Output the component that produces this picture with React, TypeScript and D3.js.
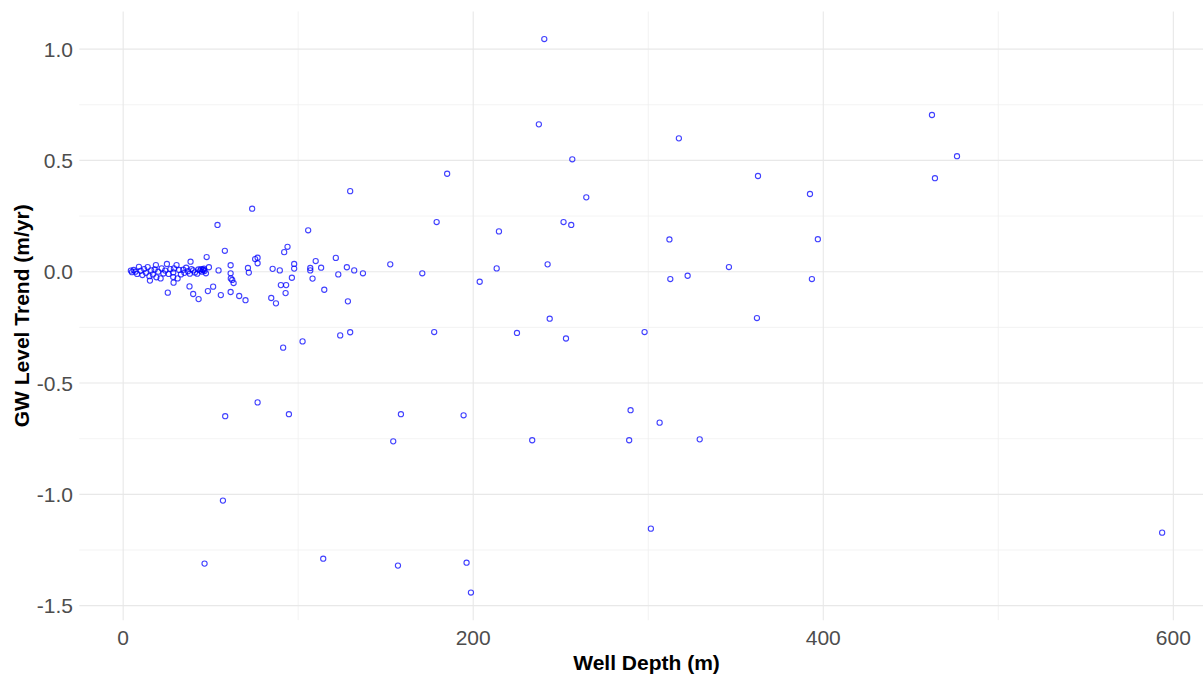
import React from "react";
import * as d3 from "d3";

const depth: number[] = [
  4.4, 5, 6, 7, 8, 9, 10, 11, 12, 13, 14, 15, 15.3, 16, 17, 18, 18.7, 19, 20, 21.4,
  22, 23, 24, 25, 25.5, 26, 27, 28.6, 28.6, 28.8, 29, 30.5, 31.1, 32, 33, 34.3, 35, 36, 37, 37.9,
  38.1, 38.5, 39, 40, 40, 41, 42.3, 43, 43.1, 44, 44.5, 45, 45.5, 46, 46.2, 46.5, 47.3, 47.7, 49,
  51.4, 48.4, 54.5, 55.8, 53.9, 58.1, 61.4, 61.4, 61.5, 62.3, 63.1, 61.4, 66.3, 69.9, 71.3, 71.8,
  73.7, 75.4, 76.8, 76.8, 84.6, 85.4, 87.3, 89.5, 90.1, 92, 93.1, 92.8, 93.9, 96.4, 97.7, 97.7,
  105.7, 106.9, 106.9, 108.2, 110, 113.1, 114.9, 121.5, 122.9, 127.8, 128.4, 129.7, 132, 137,
  91.4, 102.5, 124, 129.7, 76.8, 58.3, 94.7, 57, 46.5, 114.3,
  152.6, 154.3, 157, 158.7, 170.9, 177.7, 179.1, 185.1, 194.5, 196.2, 198.7, 203.7, 213.4, 214.7,
  225, 233.7, 237.5, 240.6, 242.5, 243.7, 251.6, 253, 256, 256.6, 264.6, 289.1, 289.9, 297.9,
  301.5, 306.5, 312.1, 312.6, 317.5, 322.5, 329.4, 346.1, 362.1, 362.7, 392.4, 393.5, 396.9,
  462.1, 463.8, 476.4, 593.6,
];

const trend: number[] = [
  0.005, -0.002, 0.008, 0.0, -0.01, 0.022, 0.004, -0.015, 0.012, -0.005, 0.021, -0.02, -0.04, 0.006, -0.012, 0.01, 0.03, -0.025, 0.0, -0.03,
  0.015, -0.008, 0.005, 0.035, -0.094, -0.01, 0.012, -0.003, -0.024, -0.049, 0.015, 0.03, -0.03, 0.008, -0.012, 0.009, -0.005, 0.018, 0.002, -0.066,
  -0.009, 0.045, 0.012, 0.006, -0.1, -0.003, -0.009, 0.01, -0.123, 0.005, 0.012, 0.0, 0.01, 0.008, 0.014, 0.003, -0.007, 0.066, 0.02,
  -0.067, -0.087, 0.006, -0.105, 0.21, 0.094, 0.029, -0.007, -0.03, -0.037, -0.051, -0.091, -0.109, -0.128, 0.017, -0.004,
  0.283, 0.057, 0.063, 0.038, -0.118, 0.013, -0.142, 0.006, -0.06, 0.088, -0.06, -0.096, 0.112, -0.027, 0.035, 0.014,
  0.186, 0.017, 0.006, -0.031, 0.048, 0.018, -0.081, 0.062, -0.012, 0.02, -0.133, 0.362, 0.006, -0.007,
  -0.341, -0.313, -0.286, -0.272, -0.587, -0.649, -0.64, -1.028, -1.311, -1.289,
  0.033, -0.762, -1.32, -0.64, -0.007, -0.271, 0.223, 0.44, -0.645, -1.307, -1.441, -0.045, 0.015, 0.181,
  -0.275, -0.757, 0.662, 1.045, 0.033, -0.211, 0.223, -0.3, 0.21, 0.505, 0.334, -0.757, -0.622, -0.271,
  -1.154, -0.678, 0.145, -0.033, 0.599, -0.018, -0.753, 0.021, -0.208, 0.43, 0.349, -0.033, 0.146,
  0.704, 0.42, 0.519, -1.172,
];

const xTicks: number[] = [0, 200, 400, 600];
const xMinor: number[] = [100, 300, 500];
const yTicks: number[] = [-1.5, -1.0, -0.5, 0.0, 0.5, 1.0];
const yMinor: number[] = [-1.25, -0.75, -0.25, 0.25, 0.75];
const xTitle = "Well Depth (m)";
const yTitle = "GW Level Trend (m/yr)";

const W = 1203;
const H = 674;
const panel = { left: 79.3, right: 1213.7, top: 11.4, bottom: 620.2 };

function expand([a, b]: [number, number]): [number, number] {
  const p = (b - a) * 0.05;
  return [a - p, b + p];
}

export default function App() {
  const xDom = expand(d3.extent(depth) as [number, number]);
  const yDom = expand(d3.extent(trend) as [number, number]);
  const x = d3.scaleLinear().domain(xDom).range([panel.left, panel.right]);
  const y = d3.scaleLinear().domain(yDom).range([panel.bottom, panel.top]);
  const pts = depth.map((d, i) => ({ d, t: trend[i] }));
  const font = "'Liberation Sans', Arial, sans-serif";
  return (
    <svg
      width={W}
      height={H}
      style={{ position: "fixed", left: 0, top: 0, background: "#fff" }}
      fontFamily={font}
    >
      <rect x={0} y={0} width={W} height={H} fill="#fff" />
      <g>
        {yMinor.map((v) => (
          <line key={"ym" + v} x1={panel.left} x2={panel.right} y1={y(v)} y2={y(v)} stroke="#f0f0f0" strokeWidth={0.8} />
        ))}
        {xMinor.map((v) => (
          <line key={"xm" + v} x1={x(v)} x2={x(v)} y1={panel.top} y2={panel.bottom} stroke="#f0f0f0" strokeWidth={0.8} />
        ))}
        {yTicks.map((v) => (
          <line key={"yg" + v} x1={panel.left} x2={panel.right} y1={y(v)} y2={y(v)} stroke="#e8e8e8" strokeWidth={1.1} />
        ))}
        {xTicks.map((v) => (
          <line key={"xg" + v} x1={x(v)} x2={x(v)} y1={panel.top} y2={panel.bottom} stroke="#e8e8e8" strokeWidth={1.1} />
        ))}
      </g>
      <g>
        {pts.map((p, i) => (
          <circle
            key={i}
            cx={x(p.d)}
            cy={y(p.t)}
            r={2.6}
            fill="none"
            stroke="#0000ff"
            strokeWidth={1.1}
            opacity={0.75}
          />
        ))}
      </g>
      <g fill="#4d4d4d" fontSize={21}>
        {yTicks.map((v) => (
          <text key={"yl" + v} x={73} y={y(v)} textAnchor="end" dominantBaseline="central">
            {v.toFixed(1)}
          </text>
        ))}
        {xTicks.map((v) => (
          <text key={"xl" + v} x={x(v)} y={637} textAnchor="middle" dominantBaseline="central">
            {String(v)}
          </text>
        ))}
      </g>
      <text
        x={(panel.left + panel.right) / 2}
        y={662}
        textAnchor="middle"
        dominantBaseline="central"
        fontSize={21}
        fontWeight="bold"
        fill="#000"
      >
        {xTitle}
      </text>
      <text
        transform={`translate(21,${(panel.top + panel.bottom) / 2}) rotate(-90)`}
        textAnchor="middle"
        dominantBaseline="central"
        fontSize={21}
        fontWeight="bold"
        fill="#000"
      >
        {yTitle}
      </text>
    </svg>
  );
}
